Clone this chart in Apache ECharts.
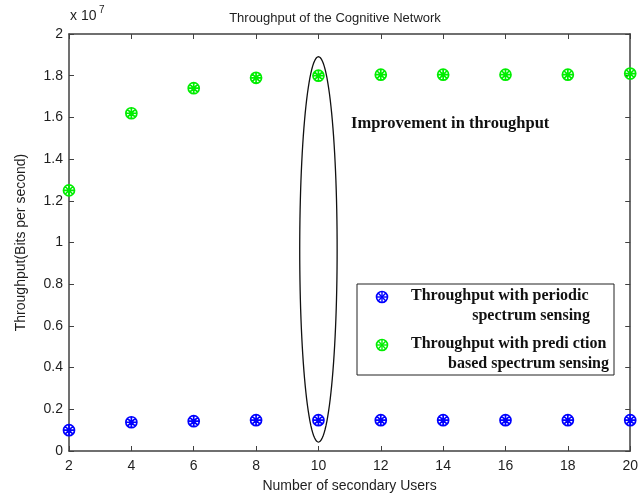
<!DOCTYPE html>
<html>
<head>
<meta charset="utf-8">
<script src="https://cdn.jsdelivr.net/npm/echarts@6/dist/echarts.min.js"></script>
<style>html,body{margin:0;padding:0;background:#fff;}#c{width:641px;height:498px;}</style>
</head>
<body>
<div id="c"></div>
<script>
var users = [2, 4, 6, 8, 10, 12, 14, 16, 18, 20];
var periodic = [0.100e7, 0.138e7, 0.143e7, 0.148e7, 0.148e7, 0.148e7, 0.148e7, 0.148e7, 0.148e7, 0.148e7];
var prediction = [1.25e7, 1.62e7, 1.74e7, 1.79e7, 1.80e7, 1.805e7, 1.805e7, 1.805e7, 1.805e7, 1.81e7];
var seriesNames = ['Throughput with periodic', 'Throughput with prediction'];
// ellipse annotation: [centerX, centerY, radiusX, radiusY] in data units
var ellipseSpec = [10, 0.967e7, 0.6, 0.924e7];

var FONT = 'Liberation Sans';
var SERIF = 'Liberation Serif';
var AXC = '#404040';
var TXC = '#1e1e1e';
var BLUE = '#0000ff';
var GREEN = '#00ee00';
var markPath = 'path://M0,10A10,10,0,1,1,20,10A10,10,0,1,1,0,10Z M0,10L20,10 M10,0L10,20 M2.93,2.93L17.07,17.07 M17.07,2.93L2.93,17.07';

function pairs(xs, ys) { return xs.map(function (x, i) { return [x, ys[i]]; }); }

function markIcon(cx, cy, color) {
  var r = 5.5, ch = [];
  ch.push({ type: 'circle', z: 60, shape: { cx: cx, cy: cy, r: r }, style: { fill: 'rgba(0,0,0,0)', stroke: color, lineWidth: 1.6 } });
  for (var k = 0; k < 4; k++) {
    var a = k * Math.PI / 4;
    ch.push({ type: 'line', z: 60, shape: { x1: cx - r * Math.cos(a), y1: cy - r * Math.sin(a), x2: cx + r * Math.cos(a), y2: cy + r * Math.sin(a) }, style: { stroke: color, lineWidth: 1.4 } });
  }
  return ch;
}
function legendLine(str, x, y, align) {
  return { type: 'text', z: 60, x: x, y: y,
    style: { text: str, font: 'bold 16px "' + SERIF + '"', fill: '#111', align: align, textAlign: align, verticalAlign: 'middle', textVerticalAlign: 'middle' } };
}

var chart = echarts.init(document.getElementById('c'), null, { renderer: 'canvas' });
var axisCommon = {
  axisLine: { show: true, onZero: false, lineStyle: { color: AXC, width: 1.5 } },
  axisTick: { show: true, inside: true, length: 5, lineStyle: { color: AXC, width: 1 } },
  splitLine: { show: false }
};
var graphics = [
  { type: 'text', left: 70, top: 9, style: { text: 'x 10', font: '14px "' + FONT + '"', fill: TXC } },
  { type: 'text', left: 99, top: 5, style: { text: '7', font: '10px "' + FONT + '"', fill: TXC } },
  { type: 'text', x: 351, y: 124, style: { text: 'Improvement in throughput', font: 'bold 16.5px "' + SERIF + '"', fill: '#111', align: 'left', verticalAlign: 'middle', textVerticalAlign: 'middle' } },
  { type: 'rect', z: 50, shape: { x: 357, y: 284, width: 257, height: 91 }, style: { fill: '#fff', stroke: '#222', lineWidth: 1 } },
  legendLine('Throughput with periodic', 411, 296, 'left'),
  legendLine('spectrum sensing', 590, 316, 'right'),
  legendLine('Throughput with predi ction', 411, 344, 'left'),
  legendLine('based spectrum sensing', 609, 364, 'right')
].concat(markIcon(382, 297, BLUE)).concat(markIcon(382, 345, GREEN));

var option = {
  animation: false,
  backgroundColor: '#fff',
  grid: { left: 69, right: 8, top: 34, bottom: 45, containLabel: false },
  xAxis: [
    Object.assign({
      type: 'value', min: 2, max: 20, interval: 2, position: 'bottom',
      name: 'Number of secondary Users', nameLocation: 'middle', nameGap: 28,
      nameTextStyle: { fontFamily: FONT, fontSize: 14, color: TXC },
      axisLabel: { fontFamily: FONT, fontSize: 14, color: TXC, margin: 8 }
    }, axisCommon),
    Object.assign({
      type: 'value', min: 2, max: 20, interval: 2, position: 'top',
      axisLabel: { show: false }
    }, axisCommon)
  ],
  yAxis: [
    Object.assign({
      type: 'value', min: 0, max: 2e7, interval: 0.2e7, position: 'left',
      name: 'Throughput(Bits per second)', nameLocation: 'middle', nameGap: 41,
      nameTextStyle: { fontFamily: FONT, fontSize: 14, color: TXC },
      axisLabel: { fontFamily: FONT, fontSize: 14, color: TXC, margin: 6,
        formatter: function (v) { return String(Math.round(v / 1e6) / 10); } }
    }, axisCommon),
    Object.assign({
      type: 'value', min: 0, max: 2e7, interval: 0.2e7, position: 'right',
      axisLabel: { show: false }
    }, axisCommon)
  ],
  title: {
    text: 'Throughput of the Cognitive Network', left: 330, top: 7, textAlign: 'center',
    textStyle: { fontFamily: FONT, fontSize: 13, fontWeight: 'normal', color: TXC }
  },
  graphic: graphics,
  series: [
    {
      name: seriesNames[0], type: 'scatter', data: pairs(users, periodic),
      symbol: markPath, symbolSize: 11,
      itemStyle: { color: 'rgba(0,0,0,0)', borderColor: BLUE, borderWidth: 1.7, opacity: 1 }
    },
    {
      name: seriesNames[1], type: 'scatter', data: pairs(users, prediction),
      symbol: markPath, symbolSize: 11,
      itemStyle: { color: 'rgba(0,0,0,0)', borderColor: GREEN, borderWidth: 1.7, opacity: 1 }
    },
    {
      type: 'custom', data: [ellipseSpec], silent: true, clip: false,
      renderItem: function (params, api) {
        var cx = api.value(0), cy = api.value(1), rx = api.value(2), ry = api.value(3);
        var pts = [];
        for (var i = 0; i <= 120; i++) {
          var t = i / 120 * Math.PI * 2;
          pts.push(api.coord([cx + rx * Math.cos(t), cy + ry * Math.sin(t)]));
        }
        return { type: 'polygon', shape: { points: pts }, style: { fill: null, stroke: '#111', lineWidth: 1.3 } };
      }
    }
  ]
};
chart.setOption(option);
</script>
</body>
</html>
